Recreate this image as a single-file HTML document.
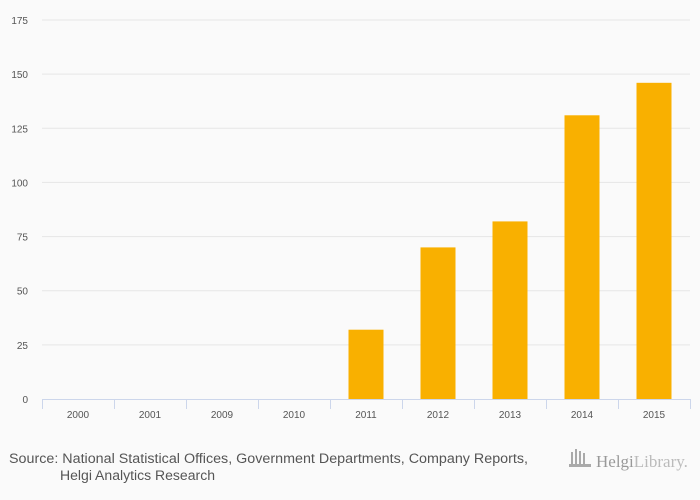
<!DOCTYPE html>
<html><head><meta charset="utf-8"><style>
body{margin:0;background:#fafafa;width:700px;height:500px;overflow:hidden;font-family:"Liberation Sans",sans-serif}
svg{display:block}
</style></head><body>
<svg id="c" width="700" height="500">
<g id="grid"></g>
<g id="bars"></g>
<g id="axes"></g>
<text x="9" y="463" font-size="13.5" fill="#555" textLength="519" lengthAdjust="spacingAndGlyphs">Source: National Statistical Offices, Government Departments, Company Reports,</text>
<text x="60" y="480" font-size="13.5" fill="#555" textLength="155" lengthAdjust="spacingAndGlyphs">Helgi Analytics Research</text>
<g>
<g fill="#aaa"><rect x="571" y="452" width="2" height="14"/><rect x="575" y="449" width="2" height="17"/><rect x="579" y="451" width="2" height="15"/><rect x="583" y="453" width="2" height="13"/><rect x="569" y="464" width="22" height="3"/></g>
<text x="596" y="467" font-size="17" fill="#999" font-family="Liberation Serif,serif">Helgi<tspan fill="#bbb">Library.</tspan></text>
</g>
</svg>
<script>
const categories=["2000","2001","2009","2010","2011","2012","2013","2014","2015"];
const values=[0,0,0,0,32,70,82,131,146];
const yTicks=[0,25,50,75,100,125,150,175];
const NS="http://www.w3.org/2000/svg";
const x0=42,x1=690,y0=399,y1=20,ymax=175;
const band=(x1-x0)/categories.length;
const yS=v=>y0-(v/ymax)*(y0-y1);
const xS=i=>x0+band*i;
function mk(p,t,a){const e=document.createElementNS(NS,t);for(const k in a)e.setAttribute(k,a[k]);p.appendChild(e);return e;}
const grid=document.getElementById('grid'),bars=document.getElementById('bars'),axes=document.getElementById('axes');
yTicks.forEach(v=>{
  if(v>0){const l=mk(grid,'line',{x1:x0,x2:x1,y1:yS(v),y2:yS(v),stroke:'#e6e6e6','stroke-width':1});
  
  }
  const t=mk(axes,'text',{x:28,y:yS(v)+4,'font-size':10,fill:'#555','text-anchor':'end'});t.textContent=v;
  
  
});
const ax=mk(axes,'line',{x1:x0,x2:x1,y1:y0+0.5,y2:y0+0.5,stroke:'#ccd6eb'});


for(let i=0;i<=categories.length;i++){const tk=mk(axes,'line',{x1:xS(i)+0.5,x2:xS(i)+0.5,y1:y0,y2:y0+10,stroke:'#ccd6eb'});
  
  }
categories.forEach((c,i)=>{
  const t=mk(axes,'text',{x:xS(i)+band/2,y:y0+19,'font-size':10,fill:'#555','text-anchor':'middle'});t.textContent=c;
  
  
  if(values[i]>0){const bw=35;
    const r=mk(bars,'rect',{x:xS(i)+band/2-bw/2,y:yS(values[i]),width:bw,height:y0-yS(values[i]),fill:'#f9b000'});
    
    }
});
</script>
</body></html>
